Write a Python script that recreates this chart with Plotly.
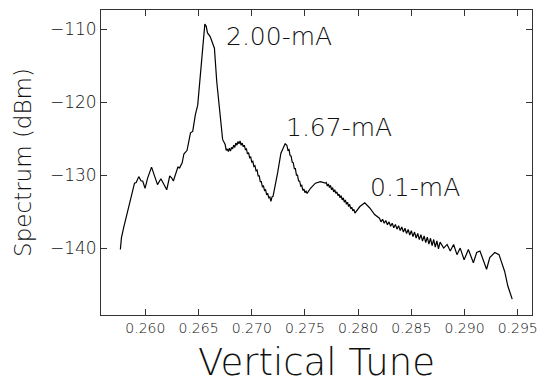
import plotly.graph_objects as go

# Vertical tune (x) and spectrum in dBm (y)
tune = [
    0.25765, 0.25775, 0.25796, 0.25821, 0.25852, 0.25877, 0.25898, 0.25914, 0.25938, 0.25960,
    0.25975, 0.25997, 0.26021, 0.26058, 0.26083, 0.26114, 0.26146, 0.26167, 0.26201, 0.26229,
    0.26248, 0.26263, 0.26285, 0.26306, 0.26322, 0.26346, 0.26362, 0.26383, 0.26392, 0.26408,
    0.26424, 0.26445, 0.26470, 0.26492, 0.26517, 0.26541, 0.26559, 0.26572, 0.26584, 0.26609,
    0.26633, 0.26649, 0.26671, 0.26693, 0.26708, 0.26726,
    0.2675, 0.2676, 0.2677, 0.2678, 0.2679, 0.2680, 0.2681, 0.2682, 0.2683, 0.2684,
    0.2685, 0.2686, 0.2687, 0.2688, 0.2689, 0.2690, 0.2691, 0.2692, 0.2693, 0.2694,
    0.2695, 0.2696, 0.2697, 0.2698, 0.2699, 0.2700, 0.2701, 0.2702, 0.2703, 0.2704,
    0.2705, 0.2706, 0.2707, 0.2708, 0.2709, 0.2710, 0.2711, 0.2712, 0.2713, 0.2714,
    0.2715, 0.2716, 0.2717, 0.2718, 0.2719, 0.2720,
    0.27243, 0.27274, 0.27314,
    0.2733, 0.2734, 0.2735, 0.2736, 0.2737, 0.2738, 0.2739, 0.2740, 0.2741, 0.2742,
    0.2743, 0.2744, 0.2745, 0.2746, 0.2747, 0.2748, 0.2749, 0.2750, 0.2751, 0.2752,
    0.27552, 0.27598, 0.27645, 0.27691,
    0.2770, 0.2771, 0.2772, 0.2773, 0.2774, 0.2775, 0.2776, 0.2777, 0.2778, 0.2779,
    0.2780, 0.2781, 0.2782, 0.2783, 0.2784, 0.2785, 0.2786, 0.2787, 0.2788, 0.2789,
    0.2790, 0.2791, 0.2792, 0.2793, 0.2794, 0.2795, 0.2796, 0.2797,
    0.28016, 0.28062, 0.28109, 0.28155,
    0.28200, 0.28215, 0.28230, 0.28245, 0.28260, 0.28275, 0.28290, 0.28305, 0.28320, 0.28335,
    0.28350, 0.28365, 0.28380, 0.28395, 0.28410, 0.28425, 0.28440, 0.28455, 0.28470, 0.28485,
    0.28500, 0.28515, 0.28530, 0.28545, 0.28560, 0.28575, 0.28590, 0.28605, 0.28620, 0.28635,
    0.28650, 0.28665, 0.28680, 0.28695, 0.28710, 0.28725, 0.28740, 0.28755, 0.28770,
    0.28804, 0.28836, 0.28866, 0.28897, 0.28929, 0.28959, 0.28996, 0.29036, 0.29083, 0.29114,
    0.29145, 0.29175, 0.29207, 0.29237, 0.29284, 0.29324, 0.29346, 0.29377, 0.29407, 0.29448,
]
spectrum = [
    -140.2, -138.6, -137.2, -135.6, -133.8, -132.4, -131.1, -131.0, -130.2, -130.8,
    -130.8, -131.8, -130.4, -128.9, -129.9, -131.3, -130.5, -131.1, -132.0, -130.1,
    -130.4, -130.8, -129.7, -128.9, -129.0, -128.3, -127.1, -126.7, -126.6, -125.4,
    -124.2, -124.0, -121.7, -120.4, -116.3, -112.6, -109.3, -109.6, -110.5, -111.0,
    -111.9, -112.6, -117.2, -120.8, -122.6, -125.1,
    -125.8, -126.6, -126.4, -126.75, -126.3, -126.7, -126.2, -126.4, -125.9, -126.2,
    -125.6, -125.9, -125.4, -125.7, -125.3, -125.9, -125.6, -126.1, -125.9, -126.5,
    -126.4, -127.1, -126.9, -127.6, -127.5, -128.2, -128.1, -128.8, -128.7, -129.4,
    -129.3, -130.1, -130.1, -130.9, -130.9, -131.6, -131.5, -132.1, -132.0, -132.7,
    -132.5, -133.1, -133.0, -133.6, -133.0, -132.9,
    -129.7, -127.0, -125.7,
    -125.9, -126.6, -126.5, -127.3, -127.4, -128.2, -128.3, -129.1, -129.1, -130.0,
    -130.0, -130.8, -130.8, -131.5, -131.4, -132.1, -131.9, -132.4, -132.2, -132.5,
    -131.8, -131.1, -130.9, -131.1,
    -131.0, -131.5, -131.2, -131.7, -131.4, -132.0, -131.7, -132.3, -132.0, -132.5,
    -132.3, -132.8, -132.6, -133.1, -132.8, -133.4, -133.1, -133.7, -133.4, -134.0,
    -133.7, -134.3, -134.0, -134.6, -134.4, -134.9, -134.7, -135.2,
    -134.3, -133.8, -134.5, -135.4,
    -135.90, -136.40, -136.05, -136.60, -136.22, -136.80, -136.40, -137.00, -136.58, -137.20,
    -136.75, -137.40, -136.92, -137.60, -137.10, -137.80, -137.28, -138.00, -137.45, -138.20,
    -137.62, -138.42, -137.80, -138.62, -137.98, -138.84, -138.15, -139.05, -138.32, -139.25,
    -138.50, -139.45, -138.65, -139.65, -138.82, -139.88, -139.00, -140.10, -139.18,
    -140.0, -139.5, -140.4, -139.5, -140.9, -140.0, -141.6, -140.2, -142.0, -140.6,
    -140.4, -141.6, -142.9, -141.3, -140.6, -140.9, -141.8, -143.2, -145.2, -147.0,
]

x_ticks = [0.260, 0.265, 0.270, 0.275, 0.280, 0.285, 0.290, 0.295]
x_tick_text = ["0.260", "0.265", "0.270", "0.275", "0.280", "0.285", "0.290", "0.295"]
y_ticks = [-140, -130, -120, -110]
y_tick_text = ["\u2212140", "\u2212130", "\u2212120", "\u2212110"]

labels = ["2.00-mA", "1.67-mA", "0.1-mA"]
label_x = [0.26742, 0.27299, 0.28096]
label_y = [-111.0, -123.5, -131.7]

FONT = "DejaVu Sans"

fig = go.Figure()
fig.add_trace(go.Scatter(x=tune, y=spectrum, mode="lines",
                         line=dict(color="black", width=1.2), showlegend=False))

for t, lx, ly in zip(labels, label_x, label_y):
    fig.add_annotation(x=lx, y=ly, text=t, showarrow=False, xanchor="left", yanchor="middle",
                       font=dict(family=FONT, size=25, color="#111", weight=200))

fig.add_annotation(xref="paper", yref="paper", x=0.499, y=-0.157, text="Vertical Tune",
                   showarrow=False, xanchor="center", yanchor="middle",
                   font=dict(family=FONT, size=37, color="#111", weight=200))
fig.add_annotation(xref="paper", yref="paper", x=-0.181, y=0.502, text="Spectrum (dBm)",
                   showarrow=False, xanchor="center", yanchor="middle", textangle=-90,
                   font=dict(family=FONT, size=23, color="#111", weight=200))

axis_common = dict(showline=True, linecolor="#333", linewidth=1, mirror="ticks",
                   ticks="inside", ticklen=6, tickcolor="#333", showgrid=False, zeroline=False,
                   ticklabeloverflow="allow")

fig.update_xaxes(range=[0.25583, 0.29634], tickvals=x_ticks, ticktext=x_tick_text,
                 tickfont=dict(family=FONT, size=14, color="#111", weight=200), **axis_common)
fig.update_yaxes(range=[-149.17, -107.36], tickvals=y_ticks, ticktext=y_tick_text,
                 tickfont=dict(family=FONT, size=17, color="#111", weight=200), **axis_common)

fig.update_layout(width=542, height=386, margin=dict(l=101, r=4.3, t=10, b=71),
                  paper_bgcolor="white", plot_bgcolor="white")

# remove the page's default 8px body margin so the figure fills the window
post = ("document.body.style.margin='0';document.body.style.overflow='hidden';"
        "var gd=document.getElementById('{plot_id}');"
        "Plotly.relayout(gd,{width:542,height:386});")

fig.write_html("out.html", post_script=post, config={"displayModeBar": False})
